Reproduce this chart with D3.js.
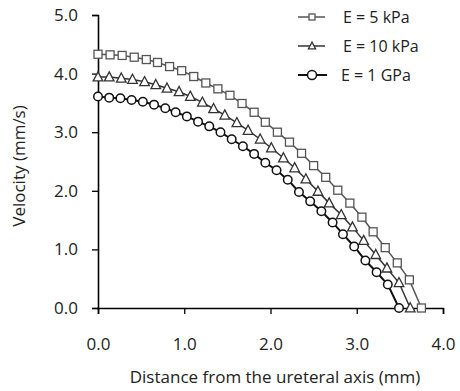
<!DOCTYPE html>
<html lang='en'>
<head>
   <meta charset='UTF-8'>
   <title>Velocity profile</title>
   <script src='https://d3js.org/d3.v7.min.js'></script>
   <style>
      body { margin: 0; background: #fff; }
      text { font-family: 'Open Sans', sans-serif; fill: #222; }
   </style>
</head>
<body>
   <div id='chart'></div>
   <script>
      // E = 5 kPa (squares)
      const x5kPa = [0, 0.14, 0.28, 0.42, 0.56, 0.69, 0.83, 0.97, 1.11, 1.25, 1.39, 1.53, 1.67, 1.81,
         1.94, 2.08, 2.22, 2.36, 2.50, 2.64, 2.78, 2.92, 3.06, 3.19, 3.33, 3.47, 3.61, 3.75];
      const v5kPa = [4.33, 4.32, 4.31, 4.28, 4.24, 4.19, 4.12, 4.05, 3.95, 3.84, 3.74, 3.63, 3.49, 3.34,
         3.17, 3.00, 2.83, 2.64, 2.43, 2.23, 2.01, 1.79, 1.55, 1.30, 1.03, 0.77, 0.48, 0];
      // E = 10 kPa (triangles)
      const x10kPa = [0, 0.13, 0.27, 0.40, 0.54, 0.67, 0.80, 0.94, 1.07, 1.21, 1.34, 1.47, 1.61, 1.74,
         1.88, 2.01, 2.15, 2.28, 2.41, 2.55, 2.68, 2.82, 2.95, 3.08, 3.22, 3.35, 3.49, 3.62];
      const v10kPa = [3.94, 3.94, 3.92, 3.90, 3.86, 3.81, 3.75, 3.69, 3.61, 3.51, 3.40, 3.29, 3.16, 3.03,
         2.88, 2.73, 2.56, 2.39, 2.20, 1.99, 1.79, 1.59, 1.38, 1.15, 0.91, 0.68, 0.43, 0];
      // E = 1 GPa (circles)
      const x1GPa = [0, 0.13, 0.26, 0.39, 0.52, 0.65, 0.78, 0.90, 1.03, 1.16, 1.29, 1.42, 1.55, 1.68,
         1.81, 1.94, 2.07, 2.20, 2.33, 2.46, 2.59, 2.72, 2.84, 2.97, 3.10, 3.23, 3.36, 3.49];
      const v1GPa = [3.61, 3.59, 3.58, 3.55, 3.52, 3.47, 3.41, 3.34, 3.27, 3.18, 3.10, 3.00, 2.88, 2.76,
         2.63, 2.48, 2.35, 2.19, 1.98, 1.82, 1.65, 1.46, 1.26, 1.05, 0.81, 0.61, 0.40, 0];

      const xTicks = [0, 1, 2, 3, 4];
      const yTicks = [0, 1, 2, 3, 4, 5];
      const seriesNames = ['E = 5 kPa', 'E = 10 kPa', 'E = 1 GPa'];

      const W = 460, H = 391;
      const margins = { top: 15, right: 17, bottom: 83, left: 98 };
      const width = W - margins.left - margins.right;
      const height = H - margins.top - margins.bottom;

      const svg = d3.select('#chart').append('svg').attr('width', W).attr('height', H);
      const g = svg.append('g').attr('transform', `translate(${margins.left}, ${margins.top})`);

      const x = d3.scaleLinear().domain([0, 4]).range([0, width]);
      const y = d3.scaleLinear().domain([0, 5]).range([height, 0]);

      const series = [
         { name: seriesNames[0], xs: x5kPa, vs: v5kPa, shape: 'square', color: '#555', width: 1.5 },
         { name: seriesNames[1], xs: x10kPa, vs: v10kPa, shape: 'triangle', color: '#333', width: 1.5 },
         { name: seriesNames[2], xs: x1GPa, vs: v1GPa, shape: 'circle', color: '#111', width: 2 }
      ];

      const line = d3.line().x(d => x(d[0])).y(d => y(d[1]));

      const drawMarker = (sel, shape, color, size) => {
         if (shape === 'square') {
            sel.append('rect').attr('x', -size / 2).attr('y', -size / 2)
               .attr('width', size).attr('height', size)
               .attr('fill', '#fff').attr('stroke', color).attr('stroke-width', 1.3);
         } else if (shape === 'triangle') {
            const s = size * 1.2;
            sel.append('path')
               .attr('d', `M0,${-s * 0.55}L${s / 2},${s * 0.4}L${-s / 2},${s * 0.4}Z`)
               .attr('fill', '#fff').attr('stroke', color).attr('stroke-width', 1.3);
         } else {
            sel.append('circle').attr('r', size / 2)
               .attr('fill', '#fff').attr('stroke', color).attr('stroke-width', 1.5);
         }
      };

      // axes
      const yAxis = g.append('g').call(d3.axisLeft(y).tickValues(yTicks).tickSize(6).tickFormat(d3.format('.1f')));
      const xAxis = g.append('g').attr('transform', `translate(0, ${height})`)
         .call(d3.axisBottom(x).tickValues(xTicks).tickSize(6).tickFormat(d3.format('.1f')));
      [xAxis, yAxis].forEach(a => {
         a.select('.domain').attr('stroke', '#000').attr('stroke-width', 1.6);
         a.selectAll('.tick line').attr('stroke', '#000').attr('stroke-width', 1.3);
         a.selectAll('.tick text').attr('font-size', '17px').attr('fill', '#222')
            .style('font-family', "'Open Sans', sans-serif");
      });
      yAxis.selectAll('.tick text').attr('x', -20);
      xAxis.selectAll('.tick text').attr('y', 30);

      // series
      series.forEach(s => {
         const pts = s.xs.map((d, i) => [d, s.vs[i]]);
         g.append('path').datum(pts)
            .attr('fill', 'none').attr('stroke', s.color).attr('stroke-width', s.width)
            .attr('d', line);
         g.append('g').selectAll('g').data(pts).join('g')
            .attr('transform', d => `translate(${x(d[0])}, ${y(d[1])})`)
            .each(function () { drawMarker(d3.select(this), s.shape, s.color, s.shape === 'circle' ? 8.5 : 8); });
      });

      // legend
      const legend = svg.append('g');
      const legendRows = [17, 46, 75];
      series.forEach((s, i) => {
         const row = legend.append('g').attr('transform', `translate(298, ${legendRows[i]})`);
         row.append('line').attr('x1', 0).attr('x2', i === 2 ? 29 : 27).attr('stroke', s.color).attr('stroke-width', s.width);
         const m = row.append('g').attr('transform', 'translate(14, 0)');
         drawMarker(m, s.shape, s.color, s.shape === 'circle' ? 9 : 6);
         row.append('text').attr('x', i === 2 ? 43 : 45).attr('y', 6)
            .attr('font-size', '16px').text(s.name);
      });

      // axis titles
      svg.append('text')
         .attr('x', 275).attr('y', 383)
         .attr('text-anchor', 'middle').attr('font-size', '17px')
         .text('Distance from the ureteral axis (mm)');
      svg.append('text')
         .attr('transform', 'rotate(-90)')
         .attr('x', -166).attr('y', 25)
         .attr('text-anchor', 'middle').attr('font-size', '17px')
         .text('Velocity (mm/s)');
   </script>
</body>
</html>
